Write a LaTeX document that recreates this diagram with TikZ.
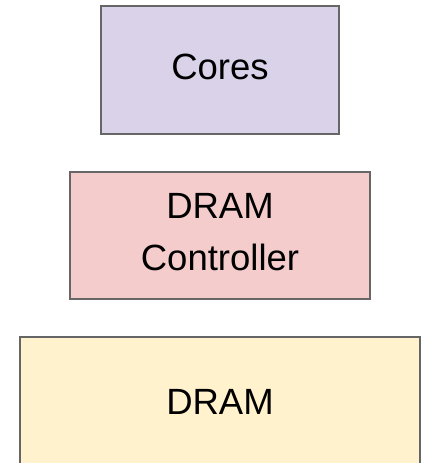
\documentclass[tikz,border=0pt]{standalone}
\usepackage{fontspec}
\setmainfont{Liberation Sans}
% invisible strut that gives each label a fixed depth, so the text sits a little low in its box
\newcommand\lowpad{\rule[-6.5pt]{0pt}{6.5pt}}
\definecolor{coresfill}{HTML}{D9D2E9}
\definecolor{ctrlfill}{HTML}{F4CCCC}
\definecolor{dramfill}{HTML}{FFF2CC}
\definecolor{edgegray}{HTML}{666666}
\tikzset{
  block/.style={draw=edgegray, line width=1.4pt, rectangle, inner sep=0pt,
    align=center, font=\fontsize{36.5}{52}\selectfont, text=black},
}
\begin{document}
\begin{tikzpicture}[x=1pt,y=-1pt]
  \clip (0,0) rectangle (423,463);
  \fill[white] (0,0) rectangle (423,463);
  \node[block, fill=coresfill, minimum width=238pt, minimum height=128pt]
    (cores) at (220,70) {Cores\lowpad};
  \node[block, fill=ctrlfill, minimum width=300pt, minimum height=127pt]
    (ctrl) at (220,235.5) {DRAM\\Controller\lowpad};
  \node[block, fill=dramfill, minimum width=400pt, minimum height=136pt]
    (dram) at (220,405) {DRAM\lowpad};
\end{tikzpicture}
\end{document}
